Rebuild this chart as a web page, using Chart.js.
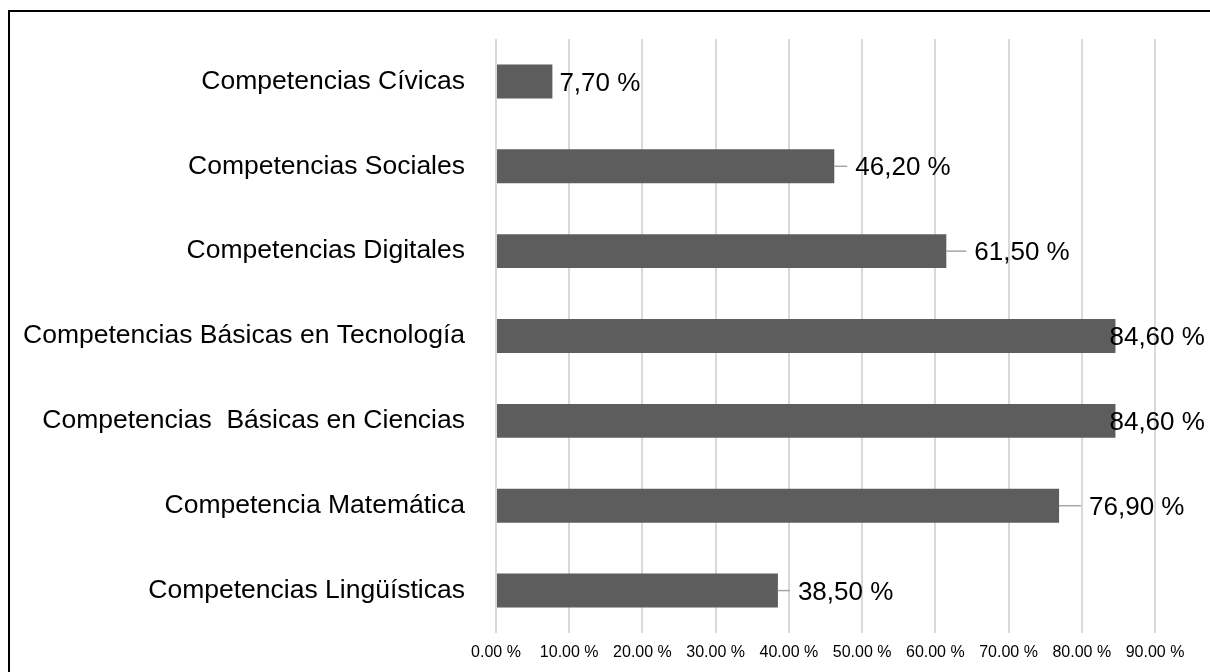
<!DOCTYPE html>
<html>
<head>
<meta charset="utf-8">
<script src="https://cdn.jsdelivr.net/npm/chart.js@4"></script>
<style>
	html, body { margin: 0; padding: 0; background: #fff; }
	#wrap { width: 1210px; height: 672px; position: relative; }
</style>
</head>
<body>
<div id="wrap"><canvas id="competencias"></canvas></div>
<script>
const categorias = [
	"Competencias Cívicas",
	"Competencias Sociales",
	"Competencias Digitales",
	"Competencias Básicas en Tecnología",
	"Competencias  Básicas en Ciencias",
	"Competencia Matemática",
	"Competencias Lingüísticas",
];
const porcentajes = [7.7, 46.2, 61.5, 84.6, 84.6, 76.9, 38.5];
const ejeTicks = [0, 10, 20, 30, 40, 50, 60, 70, 80, 90];

// where each data label sits, px right of the bar end (moved by hand in the original)
const desplazamiento = [7, 21, 28, -6, -6, 30, 20];

const barColor = "#5d5d5d";
const gridColor = "#d9d9d9";

const etiquetas = {
	id: "etiquetas",
	beforeDraw(chart) {
		const ctx = chart.ctx;
		ctx.save();
		ctx.fillStyle = "#000";
		ctx.fillRect(8, 10, chart.width, 2);
		ctx.fillRect(8, 10, 2, chart.height);
		ctx.restore();
	},
	afterDatasetsDraw(chart) {
		const ctx = chart.ctx;
		const meta = chart.getDatasetMeta(0);
		ctx.save();
		ctx.font = "26px 'Liberation Sans', Arial, sans-serif";
		ctx.textBaseline = "middle";
		ctx.fillStyle = "#000";
		meta.data.forEach(function (bar, i) {
			let d = desplazamiento[i];
			let x = bar.x + d;
			let y = bar.y + 2;
			if (d > 12) {
				ctx.strokeStyle = "#a6a6a6";
				ctx.lineWidth = 1.5;
				ctx.beginPath();
				ctx.moveTo(bar.x, bar.y);
				ctx.lineTo(x - 8, bar.y);
				ctx.stroke();
			}
			let txt = porcentajes[i].toFixed(2).replace(".", ",") + " %";
			ctx.fillText(txt, x, y);
		});
		ctx.restore();
	},
};

var canvas = document.getElementById("competencias");
var chart = new Chart(canvas, {
	type: "bar",
	data: {
		labels: categorias,
		datasets: [
			{
				data: porcentajes,
				backgroundColor: barColor,
				borderWidth: 0,
				barPercentage: 0.4,
				categoryPercentage: 1,
			},
		],
	},
	options: {
		indexAxis: "y",
		responsive: true,
		maintainAspectRatio: false,
		animation: false,
		layout: {
			padding: { top: 39, right: 55, left: 0, bottom: 0 },
		},
		scales: {
			x: {
				min: 0,
				max: 90,
				afterBuildTicks: function (scale) {
					scale.ticks = ejeTicks.map((v) => ({ value: v }));
				},
				afterFit: function (scale) {
					scale.height = 39;
				},
				grid: {
					color: gridColor,
					lineWidth: 2,
					drawTicks: false,
				},
				border: { display: false },
				ticks: {
					padding: 10,
					color: "#000",
					autoSkip: false,
					maxRotation: 0,
					minRotation: 0,
					font: { family: "'Liberation Sans', Arial, sans-serif", size: 16 },
					callback: function (value) {
						return value.toFixed(2) + " %";
					},
				},
			},
			y: {
				afterFit: function (scale) {
					scale.width = 496;
				},
				grid: { display: false },
				border: { display: false },
				ticks: {
					padding: 23,
					color: "#000",
					font: { family: "'Liberation Sans', Arial, sans-serif", size: 26.5 },
				},
			},
		},
		plugins: {
			legend: { display: false },
			tooltip: { enabled: false },
		},
	},
	plugins: [etiquetas],
});
</script>
</body>
</html>
